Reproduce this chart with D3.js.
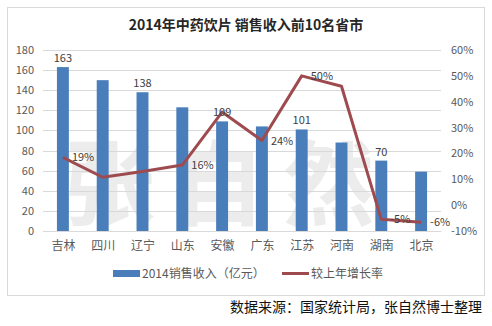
<!DOCTYPE html>
<html><head><meta charset="utf-8">
<script src="https://cdn.jsdelivr.net/npm/d3@7"></script>
<style>
body{margin:0;background:#fff;}
text{font-family:"Microsoft YaHei","Noto Sans CJK SC",sans-serif;}
</style></head>
<body><svg id="c" width="492" height="326"></svg>
<script>
const categories = ["吉林","四川","辽宁","山东","安徽","广东","江苏","河南","湖南","北京"];
const revenue = [163,150,138,123,109,104,101,88,70,59];
const growth = [18.5,10.8,13,15.5,36,25,50,46,-5.5,-6.6];
const revenueLabels = ["163","","138","","109","","101","","70",""];
const growthLabels = ["19%","","","16%","","24%","50%","","-5%","-6%"];
const leftTicks = [0,20,40,60,80,100,120,140,160,180];
const rightTicks = [-10,0,10,20,30,40,50,60];

const svg = d3.select("#c");
const W=492,H=326;
svg.append("rect").attr("x",0).attr("y",0).attr("width",W).attr("height",H).attr("fill","#fff");
svg.append("rect").attr("x",7.5).attr("y",7.5).attr("width",477).attr("height",288)
  .attr("fill","#fff").attr("stroke","#d9d9d9");

const x = d3.scaleBand().domain(categories).range([43,441]).paddingInner(0.7).paddingOuter(0.35);
const xc = d3.scalePoint().domain(categories).range([43,441]).padding(0.5);
const yL = d3.scaleLinear().domain([0,180]).range([231,50]);
const yR = d3.scaleLinear().domain([-10,60]).range([231,50]);

// watermark
svg.append("text").attr("x",228).attr("y",218).attr("text-anchor","middle")
  .attr("font-size",92).attr("font-weight","bold").attr("fill","#000").attr("opacity",0.07)
  .attr("letter-spacing","18px").text("张自然");

// gridlines
svg.append("g").selectAll("line").data(leftTicks).join("line")
  .attr("x1",43).attr("x2",441).attr("y1",d=>Math.round(yL(d))+0.5).attr("y2",d=>Math.round(yL(d))+0.5)
  .attr("stroke","#d9d9d9").attr("stroke-width",1);

// left axis
const la = svg.append("g").attr("transform","translate(34,0)")
  .call(d3.axisLeft(yL).tickValues(leftTicks).tickSize(0).tickPadding(0));
la.select(".domain").remove();
la.selectAll("text").attr("font-size",11).attr("fill","#595959").attr("font-family","'Microsoft YaHei','Noto Sans CJK SC',sans-serif");

// right axis
const ra = svg.append("g").attr("transform","translate(451,0)")
  .call(d3.axisRight(yR).tickValues(rightTicks).tickSize(0).tickPadding(0).tickFormat(d=>d+"%"));
ra.select(".domain").remove();
ra.selectAll("text").attr("font-size",11).attr("fill","#595959").attr("font-family","'Microsoft YaHei','Noto Sans CJK SC',sans-serif");

// bars
svg.append("g").selectAll("rect").data(categories).join("rect")
  .attr("x",d=>x(d)).attr("width",x.bandwidth())
  .attr("y",(d,i)=>yL(revenue[i])).attr("height",(d,i)=>yL(0)-yL(revenue[i]))
  .attr("fill","#4a7ebb");

// x axis
const xa = svg.append("g").attr("transform","translate(0,231)")
  .call(d3.axisBottom(xc).tickSize(0).tickPadding(10));
xa.select(".domain").attr("stroke","#d9d9d9");
xa.selectAll("text").attr("font-size",12).attr("fill","#595959").attr("font-family","'Microsoft YaHei','Noto Sans CJK SC',sans-serif");

// line
const line = d3.line().x((d,i)=>xc(categories[i])).y(d=>yR(d));
svg.append("path").datum(growth).attr("d",line).attr("fill","none")
  .attr("stroke","#9e4b50").attr("stroke-width",3).attr("stroke-linejoin","round");

// revenue labels
svg.append("g").selectAll("text").data(categories).join("text")
  .attr("x",d=>xc(d)).attr("y",(d,i)=>yL(revenue[i])-5)
  .attr("text-anchor","middle").attr("font-size",11).attr("fill","#404040")
  .text((d,i)=>revenueLabels[i]);

// growth labels
svg.append("g").selectAll("text").data(categories).join("text")
  .attr("x",d=>xc(d)+9).attr("y",(d,i)=>yR(growth[i])+4)
  .attr("text-anchor","start").attr("font-size",11).attr("fill","#404040")
  .text((d,i)=>growthLabels[i]);

// title
svg.append("text").attr("x",246).attr("y",30).attr("text-anchor","middle")
  .attr("font-size",14).attr("font-weight","bold").attr("fill","#262626")
  .text("2014年中药饮片 销售收入前10名省市");

// legend
svg.append("rect").attr("x",113).attr("y",270).attr("width",27).attr("height",7).attr("fill","#4a7ebb");
svg.append("text").attr("x",142).attr("y",278).attr("font-size",12).attr("fill","#595959").text("2014销售收入（亿元）");
svg.append("line").attr("x1",282).attr("x2",309).attr("y1",273.5).attr("y2",273.5).attr("stroke","#9e4b50").attr("stroke-width",3);
svg.append("text").attr("x",311).attr("y",278).attr("font-size",12).attr("fill","#595959").text("较上年增长率");

// source
svg.append("text").attr("x",482).attr("y",312).attr("text-anchor","end")
  .attr("font-size",14).attr("fill","#111").text("数据来源：国家统计局，张自然博士整理");
</script></body></html>
